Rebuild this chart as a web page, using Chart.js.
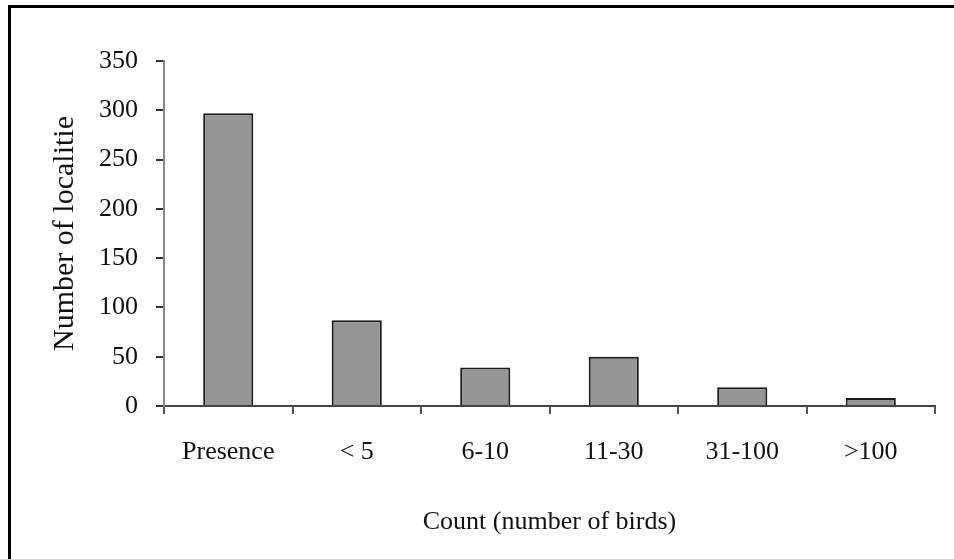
<!DOCTYPE html>
<html>
<head>
<meta charset="utf-8">
<script src="https://cdn.jsdelivr.net/npm/chart.js@4"></script>
<style>
  html, body { margin: 0; padding: 0; background: #fff; }
  #wrap { position: relative; width: 954px; height: 559px; overflow: hidden; }
  #frame { position: absolute; left: 8px; top: 5px; width: 960px; height: 570px;
           border-left: 3px solid #000; border-top: 3px solid #000; }
  canvas { position: absolute; left: 0; top: 0; }
</style>
</head>
<body>
<div id="wrap">
  <div id="frame"></div>
  <canvas id="countChart" width="954" height="559"></canvas>
</div>
<script>
// categories and values
const categories = ["Presence", "< 5", "6-10", "11-30", "31-100", ">100"];
const localities = [297, 87, 39, 50, 19, 8];
const yTicks = [0, 50, 100, 150, 200, 250, 300, 350];

const serif = "'Liberation Serif', 'Times New Roman', serif";

new Chart(document.getElementById("countChart"), {
    type: 'bar',
    data: {
        labels: categories,
        datasets: [{
            label: "Number of localities",
            data: localities,
            backgroundColor: "#959595",
            borderColor: "#1a1a1a",
            borderWidth: 2,
            barPercentage: 0.39,
            categoryPercentage: 1
        }]
    },
    options: {
        responsive: false,
        animation: false,
        layout: { padding: { left: 47, top: 61, right: 19, bottom: 0 } },
        plugins: {
            legend: { display: false },
            tooltip: { enabled: false }
        },
        scales: {
            x: {
                afterFit: (s) => { s.height = 153; },
                grid: { offset: true, drawOnChartArea: false, drawTicks: true, tickLength: 8, color: "#555", lineWidth: 2 },
                border: { display: true, color: "#444", width: 2 },
                ticks: { color: "#111", padding: 23, font: { family: serif, size: 26 } },
                title: { display: true, text: "Count (number of birds)", color: "#111",
                         padding: { top: 0, bottom: 21 }, font: { family: serif, size: 26 } }
            },
            y: {
                min: 0,
                max: 350,
                afterFit: (s) => { s.width = 117; },
                afterBuildTicks: (s) => { s.ticks = yTicks.map(v => ({ value: v })); },
                grid: { drawOnChartArea: false, drawTicks: true, tickLength: 8, color: "#333", lineWidth: 2 },
                border: { display: true, color: "#888", width: 2 },
                ticks: { color: "#111", padding: 18, font: { family: serif, size: 26 } },
                title: { display: true, text: "Number of localitie", color: "#111",
                         padding: { top: 0, bottom: 0 }, font: { family: serif, size: 30 } }
            }
        }
    }
});
</script>
</body>
</html>
